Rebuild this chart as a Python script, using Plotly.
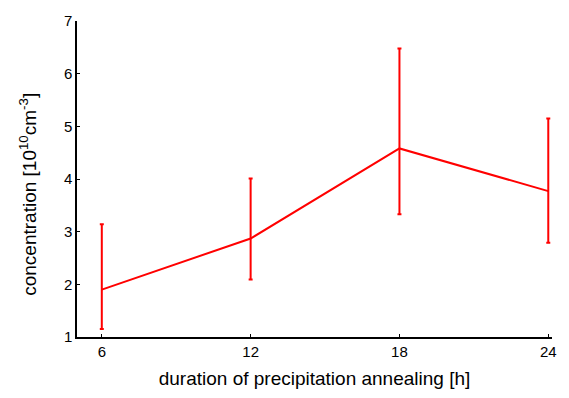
import plotly.graph_objects as go

hours = [6, 12, 18, 24]
conc = [1.90, 2.87, 4.58, 3.77]
err_plus = [1.24, 1.14, 1.90, 1.38]
err_minus = [0.75, 0.78, 1.25, 0.98]

fig = go.Figure()
fig.add_trace(go.Scatter(
    x=hours, y=conc, mode="lines",
    line=dict(color="#ff0000", width=2),
    error_y=dict(type="data", symmetric=False, array=err_plus, arrayminus=err_minus,
                 color="#ff0000", thickness=2, width=2),
    showlegend=False, cliponaxis=False,
))

font = "Liberation Sans, Arial, sans-serif"
fig.update_layout(
    width=569, height=398,
    margin=dict(l=77, r=16, t=15, b=58),
    plot_bgcolor="white", paper_bgcolor="white",
    font=dict(family=font, color="#000", size=15),
    xaxis=dict(range=[5, 24.15], tickvals=hours, ticktext=[str(h) for h in hours],
               showgrid=False, zeroline=False, showline=True, linecolor="#000", linewidth=1.5,
               ticks="inside", ticklen=3, tickcolor="#000",
               title=dict(text="duration of precipitation annealing [h]", font=dict(size=19), standoff=13)),
    yaxis=dict(range=[1, 7], tickvals=[1, 2, 3, 4, 5, 6, 7],
               showgrid=False, zeroline=False, showline=True, linecolor="#000", linewidth=1.5,
               ticks="inside", ticklen=3, tickcolor="#000"),
    annotations=[dict(text="concentration [10<sup>10</sup>cm<sup>-3</sup>]", textangle=-90,
                      xref="paper", yref="paper", x=0, y=0.45, xanchor="center", yanchor="middle",
                      xshift=-49, showarrow=False, font=dict(size=19))],
)
fig.write_html("out.html")
